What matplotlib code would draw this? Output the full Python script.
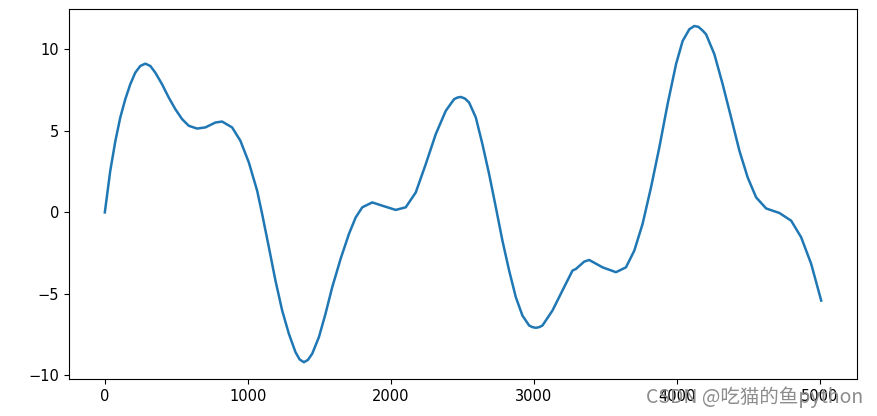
import matplotlib
matplotlib.use("Agg")
import matplotlib.pyplot as plt

# values
x = [0, 38, 74, 108, 143, 178, 213, 248, 283, 318, 353, 400, 447, 493, 540,
     587, 645, 703, 773, 820, 890, 948, 1007, 1065, 1100, 1147, 1193, 1240,
     1287, 1333, 1362, 1392, 1420, 1450, 1497, 1543, 1590, 1614, 1649, 1707,
     1754, 1800, 1870, 1940, 2034, 2104, 2174, 2244, 2314, 2384, 2442, 2465,
     2489, 2518, 2547, 2594, 2640, 2687, 2734, 2780, 2827, 2874, 2920, 2967,
     2990, 3014, 3037, 3060, 3130, 3200, 3270, 3294, 3352, 3387, 3480, 3574,
     3644, 3702, 3760, 3819, 3877, 3935, 3994, 4040, 4087, 4122, 4150, 4180,
     4204, 4262, 4320, 4379, 4437, 4495, 4554, 4624, 4717, 4799, 4869, 4939,
     5009]
y = [0.00, 2.55, 4.39, 5.82, 6.94, 7.86, 8.57, 8.98, 9.12, 8.98, 8.57, 7.86,
     7.04, 6.33, 5.72, 5.31, 5.14, 5.21, 5.51, 5.57, 5.21, 4.39, 3.06, 1.33,
     -0.10, -2.14, -4.18, -6.02, -7.45, -8.57, -9.02, -9.19, -9.05, -8.67,
     -7.65, -6.22, -4.59, -3.88, -2.84, -1.32, -0.31, 0.31, 0.61, 0.41, 0.15,
     0.31, 1.22, 2.96, 4.80, 6.23, 6.94, 7.04, 7.08, 6.98, 6.74, 5.82, 4.19,
     2.35, 0.31, -1.73, -3.57, -5.21, -6.33, -6.94, -7.04, -7.08, -7.04,
     -6.94, -6.02, -4.79, -3.57, -3.47, -3.02, -2.92, -3.37, -3.67, -3.37,
     -2.35, -0.71, 1.53, 3.98, 6.64, 9.09, 10.51, 11.23, 11.43, 11.38, 11.15,
     10.92, 9.70, 7.86, 5.82, 3.78, 2.14, 0.92, 0.24, -0.04, -0.51, -1.53,
     -3.16, -5.41]

fig = plt.figure(figsize=(8.78, 4.16), dpi=100)
ax = fig.add_axes([0.0786, 0.0889, 0.8975, 0.889])
ax.plot(x, y, color="#1f77b4", lw=1.8)
ax.set_xticks([0, 1000, 2000, 3000, 4000, 5000])
ax.set_yticks([-10, -5, 0, 5, 10])
ax.tick_params(labelsize=10.5)

# watermark from the source page (it sits over the last tick labels there too)
fig.text(0.983, 0.046, "CSDN @吃猫的鱼python", ha="right", va="center",
         fontsize=14, color="#8c8c8c",
         family=["Noto Sans CJK SC", "DejaVu Sans"])

fig.savefig("out.png", dpi=100)
